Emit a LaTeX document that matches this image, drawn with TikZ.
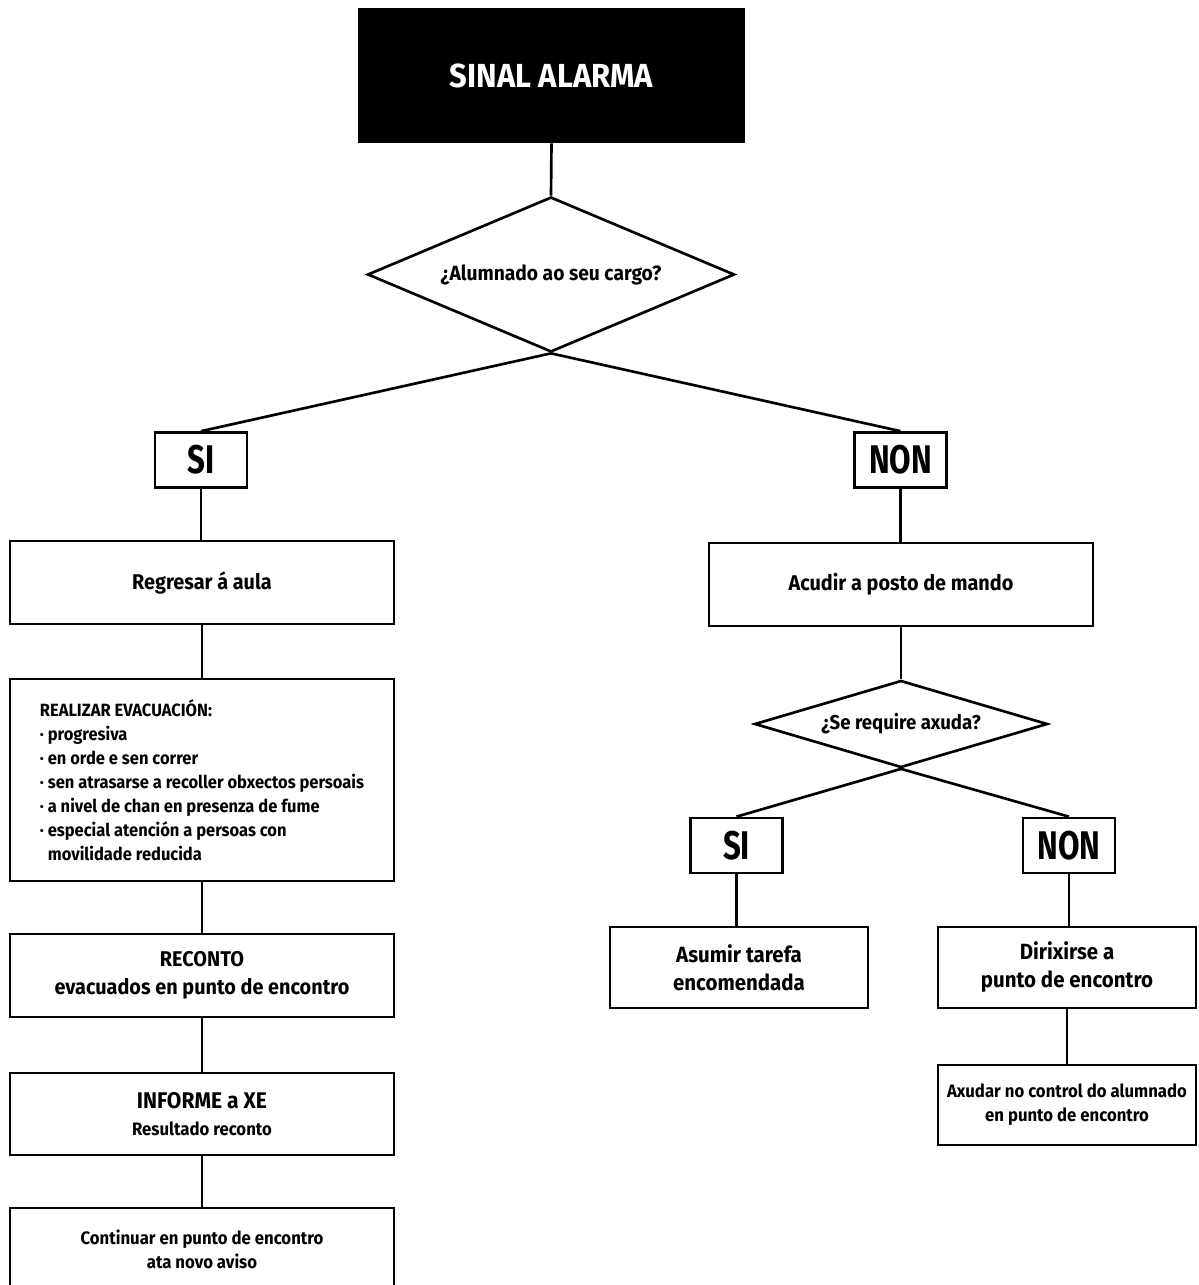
\documentclass[tikz,border=0pt]{standalone}
\usepackage{fontspec}
\setmainfont{Fira Sans}[FakeStretch=0.93]
\newfontfamily\answerfont{Fira Sans}[FakeStretch=0.78]
\usetikzlibrary{shapes.geometric}

\begin{document}
\begin{tikzpicture}[
    x=0.75pt, y=-0.75pt,
    box/.style={
        draw,
        line width=2pt,
        minimum width=288pt,
        minimum height=62.25pt,
        inner sep=0pt,
        align=center,
        font=\bfseries\fontsize{16}{21}\selectfont
    },
    smallbox/.style={
        box,
        minimum width=193.5pt,
        minimum height=60.75pt,
        font=\bfseries\fontsize{16.5}{21}\selectfont
    },
    answer/.style={
        draw,
        line width=2pt,
        minimum width=69pt,
        minimum height=41.25pt,
        inner sep=0pt,
        font=\answerfont\bfseries\fontsize{30}{30}\selectfont
    },
    question/.style={
        draw,
        diamond,
        line width=2pt,
        inner sep=0pt,
        aspect=2.4,
        font=\bfseries\fontsize{15.5}{19}\selectfont
    },
    link/.style={
        line width=2pt
    }
]
\path[use as bounding box, clip] (0,0) rectangle (1199,1285);

% Start
\node (alarm) at (551.5,75.5) [fill=black, text=white, minimum width=290.25pt, minimum height=101.25pt,
    font=\bfseries\fontsize{25}{25}\selectfont] {SINAL ALARMA};
\node (q1) at (551,274.5) [question, minimum width=275.25pt, minimum height=116.25pt] {¿Alumnado ao seu cargo?};

% Left branch
\node (si1) at (201,460) [answer] {SI};
\node (aula) at (202,582.5) [box] {Regresar á aula};
\node (evac) at (202,780) [box, minimum height=151.5pt, align=left, font=\bfseries\fontsize{13.3}{18}\selectfont]
    {REALIZAR EVACUACIÓN:\\
     · progresiva\\
     · en orde e sen correr\\
     · sen atrasarse a recoller obxectos persoais\\
     · a nivel de chan en presenza de fume\\
     · especial atención a persoas con\\
     \hspace*{6pt}movilidade reducida};
\node (reconto) at (202,975.5) [box] {RECONTO\\ evacuados en punto de encontro};
\node (informe) at (202,1114) [box, minimum height=61.5pt, font=\bfseries\fontsize{17}{20}\selectfont]
    {INFORME a XE\\ {\fontsize{13.5}{16}\selectfont Resultado reconto}};
\node (seguir) at (202,1249.5) [box, font=\bfseries\fontsize{13.5}{18}\selectfont]
    {Continuar en punto de encontro\\ ata novo aviso};

% Right branch
\node (non1) at (900.5,460) [answer] {NON};
\node (mando) at (901,584.5) [box] {Acudir a posto de mando};
\node (q2) at (901,724) [question, minimum width=219.75pt, minimum height=61.5pt,
    font=\bfseries\fontsize{15}{18}\selectfont] {¿Se require axuda?};
\node (si2) at (736.5,845.5) [answer] {SI};
\node (non2) at (1069,845.5) [answer] {NON};
\node (tarefa) at (739,967.5) [smallbox] {Asumir tarefa\\ encomendada};
\node (punto) at (1067,967.5) [smallbox] {Dirixirse a\\ punto de encontro};
\node (axudar) at (1067,1105) [smallbox, minimum height=60pt, font=\bfseries\fontsize{13.5}{18}\selectfont]
    {Axudar no control do alumnado\\ en punto de encontro};

% Connectors
\draw [link] (alarm.south) -- (q1.north);
\draw [link] (q1.south) -- (si1.north);
\draw [link] (q1.south) -- (non1.north);
\draw [link] (si1.south) -- (si1.south |- aula.north);
\draw [link] (aula.south) -- (evac.north);
\draw [link] (evac.south) -- (reconto.north);
\draw [link] (reconto.south) -- (informe.north);
\draw [link] (informe.south) -- (seguir.north);
\draw [link] (non1.south) -- (non1.south |- mando.north);
\draw [link] (mando.south) -- (q2.north);
\draw [link] (q2.south) -- (si2.north);
\draw [link] (q2.south) -- (non2.north);
\draw [link] (si2.south) -- (si2.south |- tarefa.north);
\draw [link] (non2.south) -- (non2.south |- punto.north);
\draw [link] (punto.south) -- (axudar.north);

\end{tikzpicture}
\end{document}
